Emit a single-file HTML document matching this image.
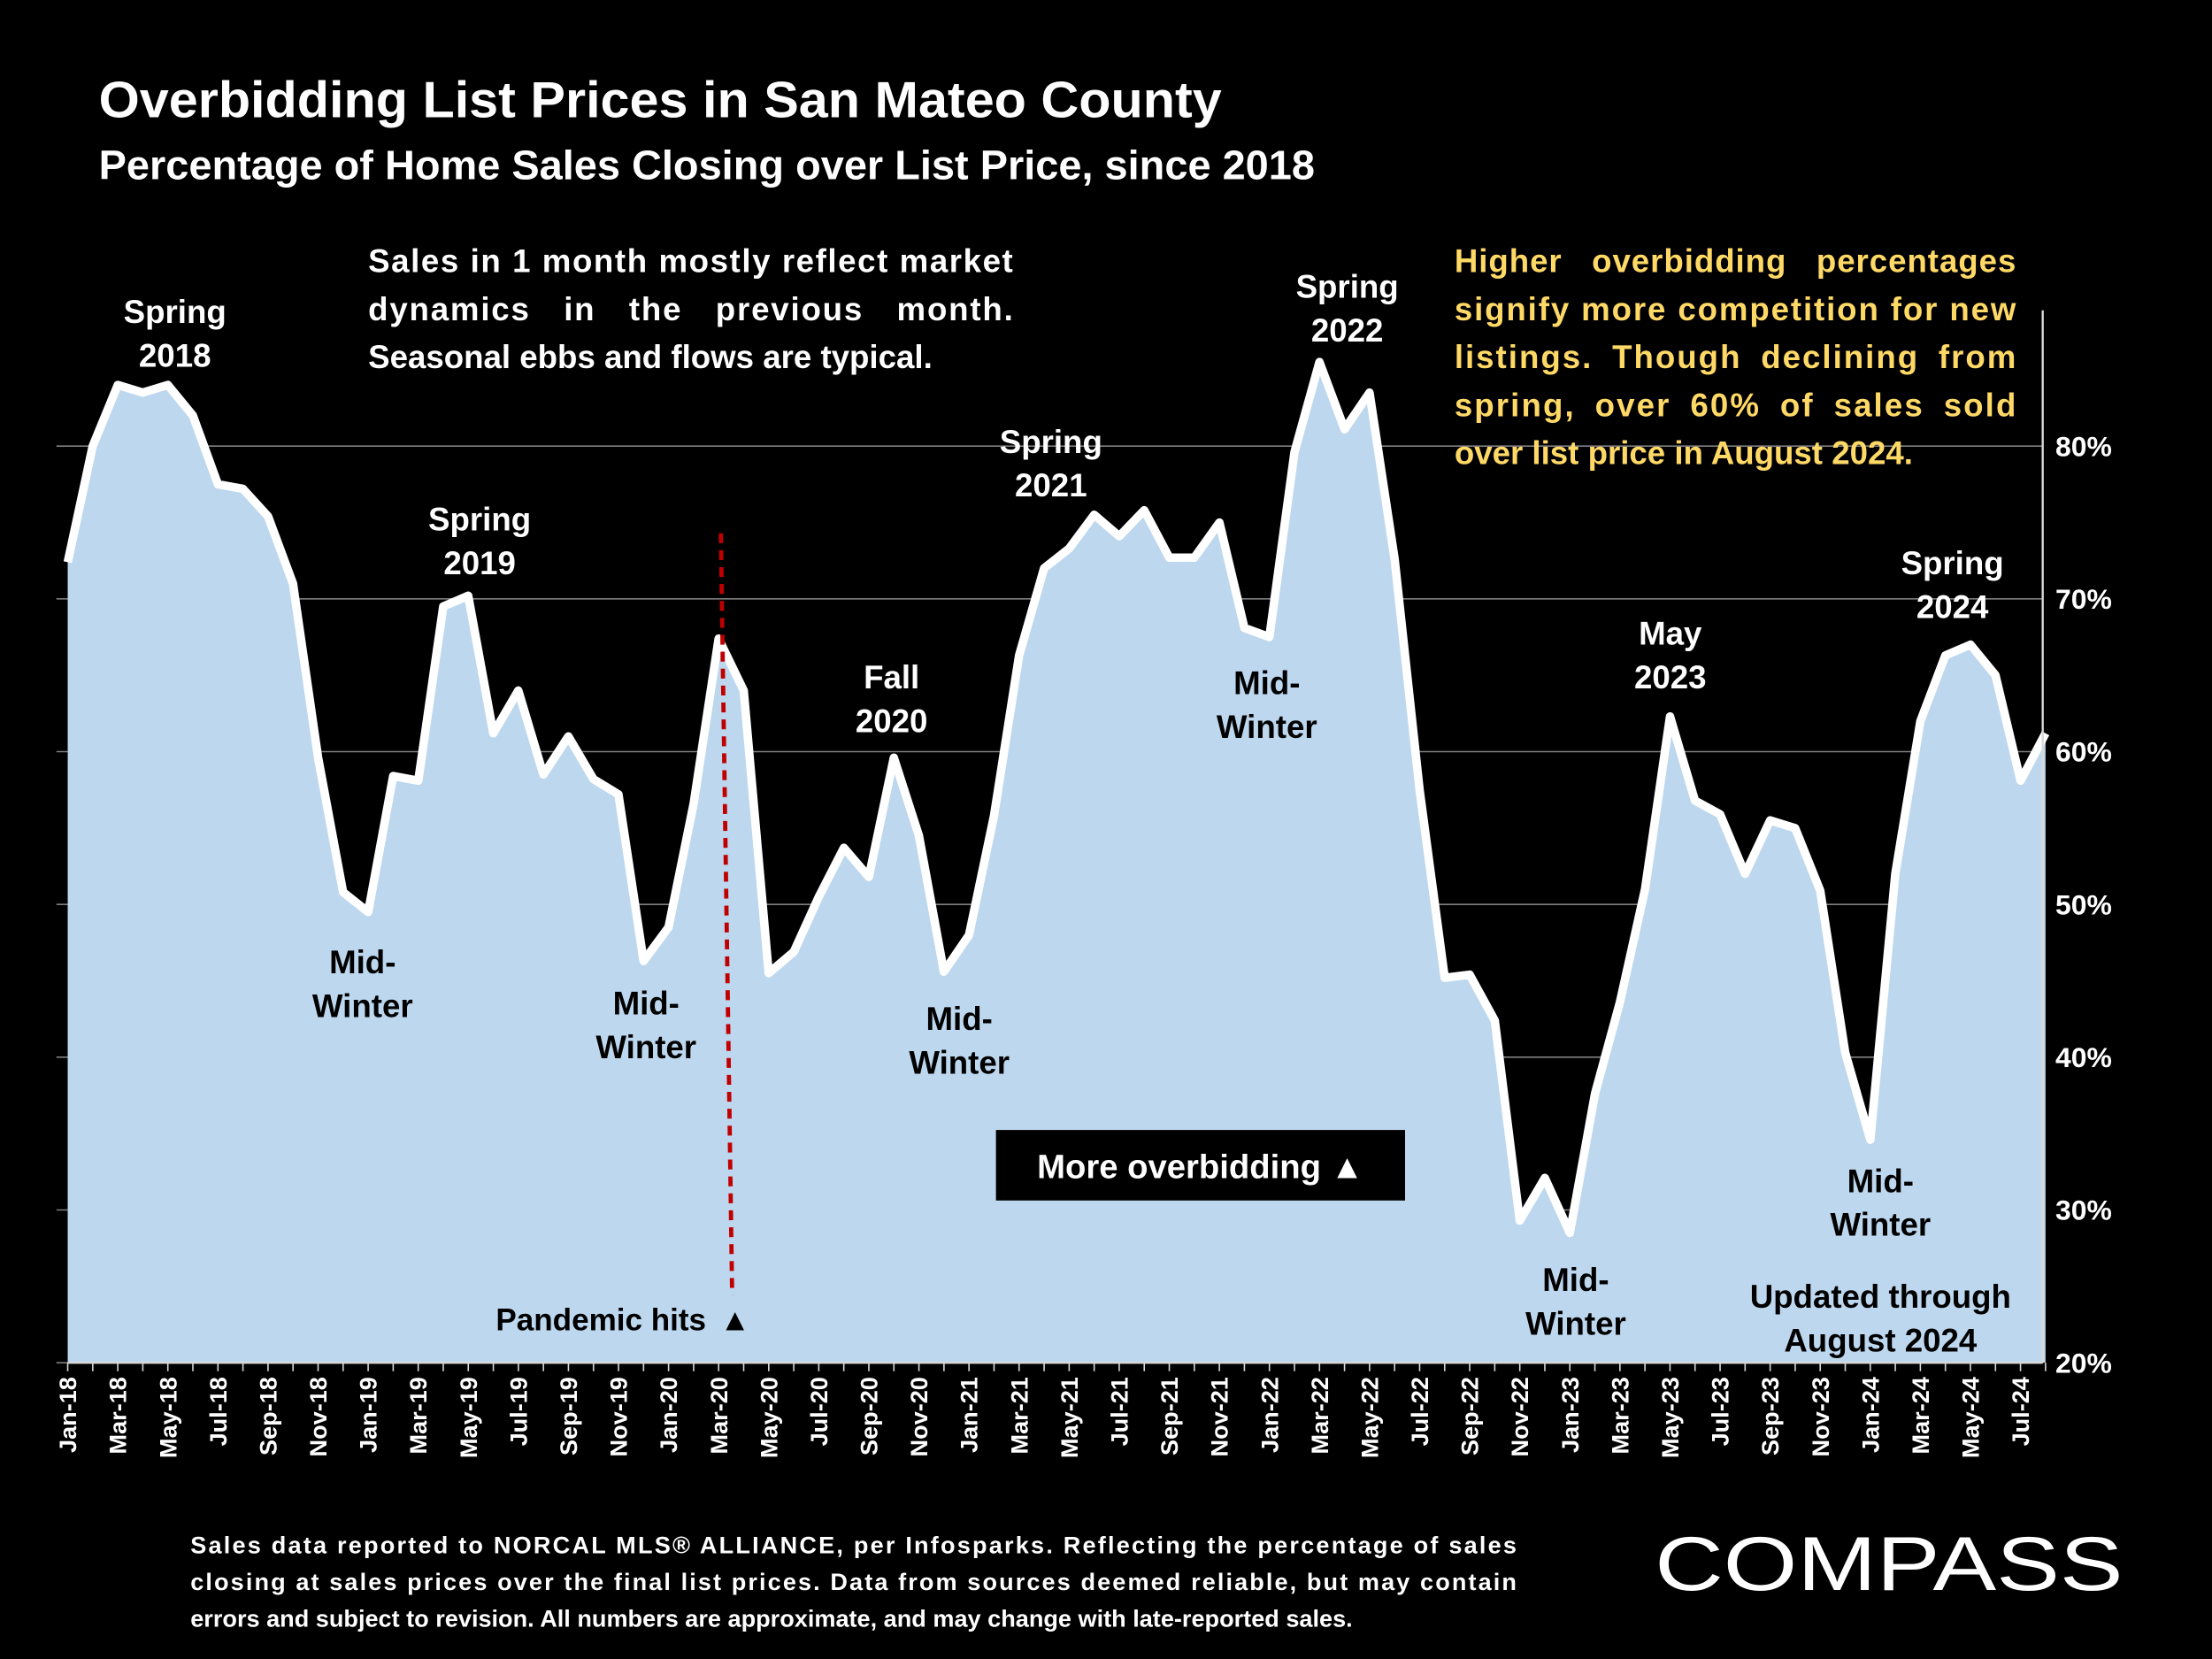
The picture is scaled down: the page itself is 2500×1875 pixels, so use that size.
<!DOCTYPE html>
<html><head><meta charset="utf-8"><style>
html,body{margin:0;padding:0;background:#000;}
svg{display:block;}
text{font-family:"Liberation Sans",sans-serif;font-weight:bold;}
</style></head><body>
<svg id="chart" width="2500" height="1875" viewBox="0 0 1568 1176" xmlns="http://www.w3.org/2000/svg">
<rect x="0" y="0" width="1568" height="1176" fill="#000"/>
<text x="70" y="83" font-size="36" fill="#fff" textLength="796" lengthAdjust="spacingAndGlyphs">Overbidding List Prices in San Mateo County</text>
<text x="70" y="127" font-size="29" fill="#fff" textLength="862" lengthAdjust="spacingAndGlyphs">Percentage of Home Sales Closing over List Price, since 2018</text>
<g id="grid"></g>
<g id="plot"></g>
<g id="yaxis"></g>
<g id="xaxis"></g>
<g id="ann" font-size="23" fill="#000" text-anchor="middle">
<text x="124" y="229" fill="#fff"><tspan x="124">Spring</tspan><tspan x="124" dy="31">2018</tspan></text>
<text x="340" y="376" fill="#fff"><tspan x="340">Spring</tspan><tspan x="340" dy="31">2019</tspan></text>
<text x="257" y="690"><tspan x="257">Mid-</tspan><tspan x="257" dy="31">Winter</tspan></text>
<text x="458" y="719"><tspan x="458">Mid-</tspan><tspan x="458" dy="31">Winter</tspan></text>
<text x="632" y="488" fill="#fff"><tspan x="632">Fall</tspan><tspan x="632" dy="31">2020</tspan></text>
<text x="680" y="730"><tspan x="680">Mid-</tspan><tspan x="680" dy="31">Winter</tspan></text>
<text x="745" y="321" fill="#fff"><tspan x="745">Spring</tspan><tspan x="745" dy="31">2021</tspan></text>
<text x="898" y="492"><tspan x="898">Mid-</tspan><tspan x="898" dy="31">Winter</tspan></text>
<text x="955" y="211" fill="#fff"><tspan x="955">Spring</tspan><tspan x="955" dy="31">2022</tspan></text>
<text x="1184" y="457" fill="#fff"><tspan x="1184">May</tspan><tspan x="1184" dy="31">2023</tspan></text>
<text x="1117" y="915"><tspan x="1117">Mid-</tspan><tspan x="1117" dy="31">Winter</tspan></text>
<text x="1384" y="407" fill="#fff"><tspan x="1384">Spring</tspan><tspan x="1384" dy="31">2024</tspan></text>
<text x="1333" y="845"><tspan x="1333">Mid-</tspan><tspan x="1333" dy="31">Winter</tspan></text>
<text x="1333" y="927"><tspan x="1333">Updated through</tspan><tspan x="1333" dy="31">August 2024</tspan></text>
<text x="426" y="943" font-size="22">Pandemic hits</text>
<text x="521" y="943" font-size="22">▲</text>
<line x1="511" y1="378" x2="519" y2="918" stroke="#c00000" stroke-width="3" stroke-dasharray="7,5"/>
<rect x="706" y="801" width="290" height="50" fill="#000"/>
<text x="851" y="835" font-size="24" fill="#fff">More overbidding ▲</text>
</g>
<g font-size="23" fill="#fff">
<text x="261" y="193" textLength="457" lengthAdjust="spacing">Sales in 1 month mostly reflect market</text>
<text x="261" y="227" textLength="457" lengthAdjust="spacing" word-spacing="16">dynamics in the previous month.</text>
<text x="261" y="261">Seasonal ebbs and flows are typical.</text>
</g>
<g font-size="23" fill="#ffd966">
<text x="1031" y="193" textLength="398" lengthAdjust="spacing" word-spacing="14">Higher overbidding percentages</text>
<text x="1031" y="227" textLength="398" lengthAdjust="spacing">signify more competition for new</text>
<text x="1031" y="261" textLength="398" lengthAdjust="spacing" word-spacing="6">listings. Though declining from</text>
<text x="1031" y="295" textLength="398" lengthAdjust="spacing" word-spacing="6">spring, over 60% of sales sold</text>
<text x="1031" y="329">over list price in August 2024.</text>
</g>
<g font-size="17" fill="#fff">
<text x="135" y="1101" textLength="940" lengthAdjust="spacing">Sales data reported to NORCAL MLS® ALLIANCE, per Infosparks. Reflecting the percentage of sales</text>
<text x="135" y="1127" textLength="940" lengthAdjust="spacing">closing at sales prices over the final list prices. Data from sources deemed reliable, but may contain</text>
<text x="135" y="1153">errors and subject to revision. All numbers are approximate, and may change with late-reported sales.</text>
</g>
<text x="1173" y="1127" font-size="54" fill="#fff" style="font-weight:normal" textLength="332" lengthAdjust="spacingAndGlyphs">COMPASS</text>
<script>
const months=["Jan","Feb","Mar","Apr","May","Jun","Jul","Aug","Sep","Oct","Nov","Dec"];
const values=[72.4,80,84,83.5,84,82,77.5,77.2,75.4,71,59.6,50.8,
49.5,58.4,58.1,69.5,70.2,61.2,64,58.5,61,58.2,57.2,46.3,
48.5,56.6,67.4,64,45.5,46.9,50.5,53.7,51.8,59.6,54.5,45.6,
48,55.8,66.3,72,73.3,75.5,74.1,75.8,72.7,72.7,75,68.1,
67.5,79.6,85.5,81.1,83.5,72.6,57.5,45.2,45.4,42.4,29.3,32.1,
28.5,37.6,43.6,51,62.3,56.8,55.9,52,55.5,55,50.9,40.3,
34.6,52,62,66.3,67,65,58.1,61.2];
const yTicks=[20,30,40,50,60,70,80];
const NS="http://www.w3.org/2000/svg";
const x0=48,x1=1450,yBase=966,pxPer10=108.3;
const X=i=>x0+i*(x1-x0)/(values.length-1);
const Y=v=>yBase-(v-20)*pxPer10/10;
function mk(tag,attrs,parent){const e=document.createElementNS(NS,tag);for(const k in attrs)e.setAttribute(k,attrs[k]);parent.appendChild(e);return e;}
const grid=document.getElementById('grid'),plot=document.getElementById('plot'),ya=document.getElementById('yaxis'),xa=document.getElementById('xaxis');
yTicks.forEach(t=>{
  const l=mk('line',{x1:40,x2:1448,y1:Y(t),y2:Y(t),stroke:'#7f7f7f','stroke-width':1},grid);
  
  
  const tx=mk('text',{x:1457,y:Y(t)+7,'font-size':20,fill:'#fff'},ya);
  tx.textContent=t+'%';
  
  
});
let d='M'+X(0)+','+yBase;
values.forEach((v,i)=>{d+=' L'+X(i).toFixed(1)+','+Y(v).toFixed(1);});
d+=' L'+X(values.length-1)+','+yBase+' Z';
const area=mk('path',{d:d,fill:'#bdd7ee'},plot);


const line=mk('polyline',{points:values.map((v,i)=>X(i).toFixed(1)+','+Y(v).toFixed(1)).join(' '),fill:'none',stroke:'#fff','stroke-width':6,'stroke-linejoin':'round'},plot);


const ax=mk('line',{x1:1448,x2:1448,y1:220,y2:966,stroke:'#d9d9d9','stroke-width':1.5},ya);


const bx=mk('line',{x1:48,x2:1448,y1:966,y2:966,stroke:'#d9d9d9','stroke-width':1.5},xa);


values.forEach((v,i)=>{
  const tk=mk('line',{x1:X(i),x2:X(i),y1:966,y2:972,stroke:'#d9d9d9','stroke-width':1},xa);
  
  
  if(i%2===0){
    const lab=months[i%12]+'-'+(18+Math.floor(i/12));
    const t=mk('text',{x:0,y:0,'font-size':17,fill:'#fff','text-anchor':'end',transform:'translate('+(X(i)+6)+',976) rotate(-90)'},xa);
    t.textContent=lab;
    
    
  }
});
</script>
</svg>
</body></html>
